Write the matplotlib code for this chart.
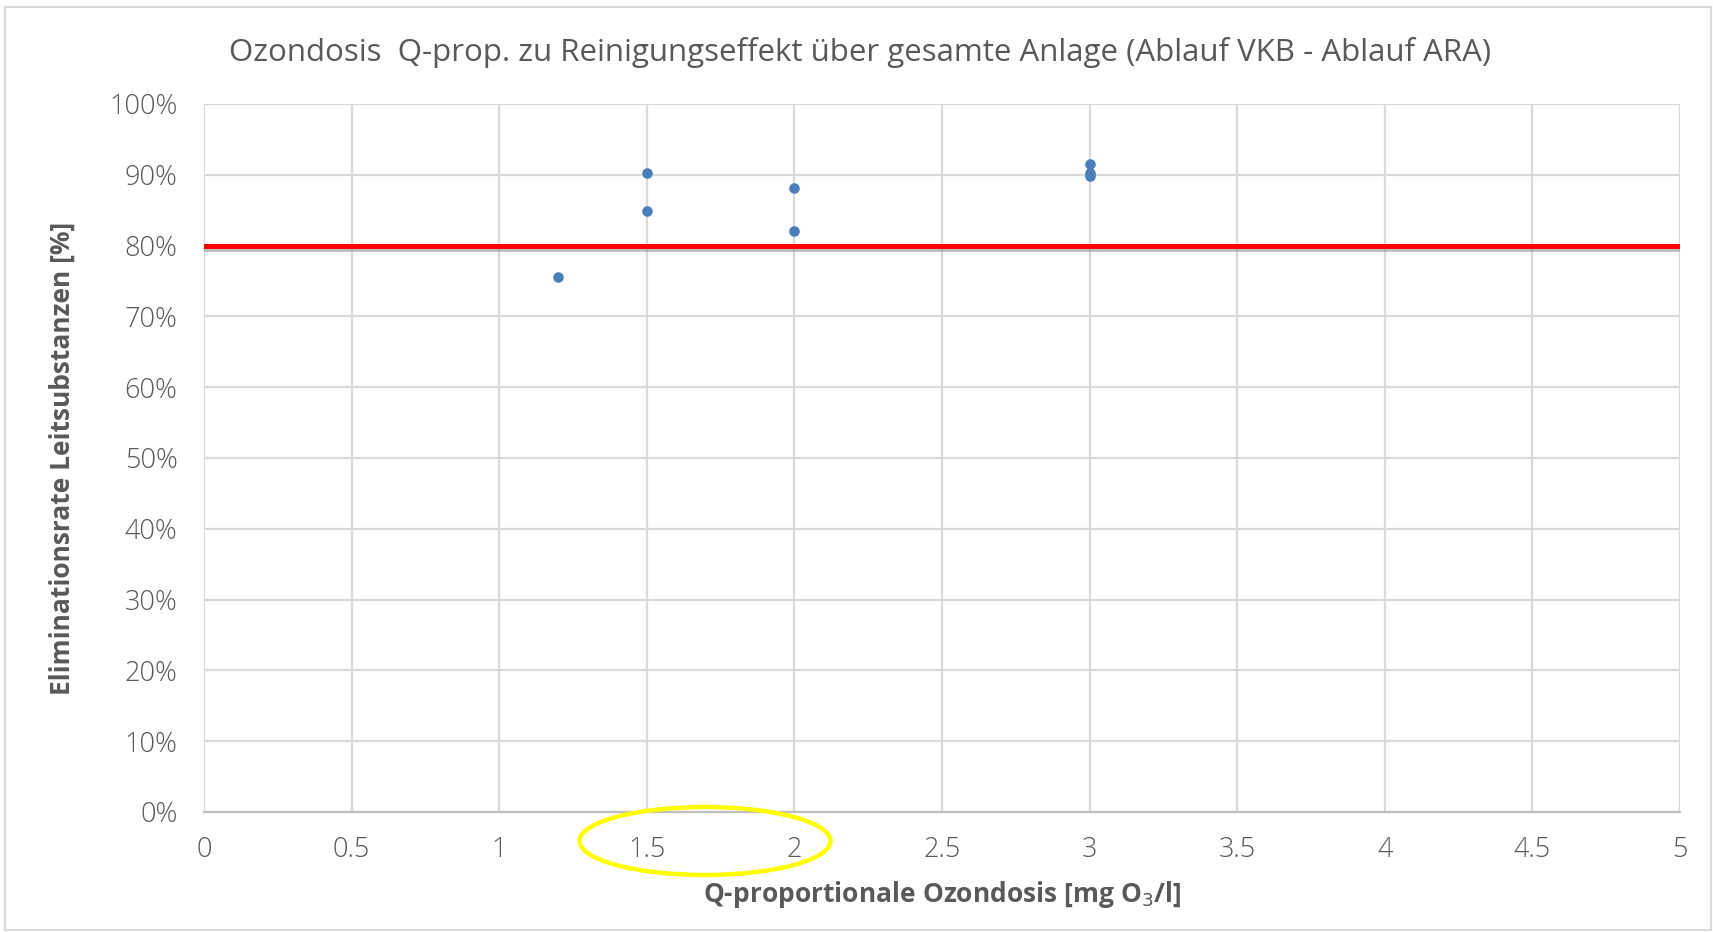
import matplotlib.pyplot as plt
from matplotlib.patches import Ellipse, Rectangle
from matplotlib.ticker import FuncFormatter, MultipleLocator
import matplotlib.patheffects as pe

plt.rcParams["font.family"] = ["Open Sans", "DejaVu Sans"]

# Measured points
dose = [1.2, 1.5, 1.5, 2, 2, 3, 3, 3]
elimination = [0.755, 0.903, 0.849, 0.882, 0.821, 0.915, 0.902, 0.898]
target_rate = 0.80

title = "Ozondosis  Q-prop. zu Reinigungseffekt über gesamte Anlage (Ablauf VKB - Ablauf ARA)"
x_label = "Q-proportionale Ozondosis [mg O$_3$/l]"
y_label = "Eliminationsrate Leitsubstanzen [%]"

text_color = "#595959"
grid_color = "#d9d9d9"

fig = plt.figure(figsize=(17.13, 9.32), dpi=100)
ax = fig.add_axes([204 / 1713, 1 - 812 / 932, (1680 - 204) / 1713, (812 - 104) / 932])

ax.scatter(dose, elimination, s=58, color="#4a7ebb", zorder=5, linewidths=0)

# Red target line with a soft shadow
ax.axhline(
    target_rate,
    color="#ff0000",
    linewidth=3.6,
    zorder=4,
    path_effects=[
        pe.SimpleLineShadow(offset=(0, -2.5), shadow_color="#808080", alpha=0.5),
        pe.Normal(),
    ],
)

ax.set_xlim(0, 5)
ax.set_ylim(0, 1)
ax.xaxis.set_major_locator(MultipleLocator(0.5))
ax.yaxis.set_major_locator(MultipleLocator(0.1))
ax.xaxis.set_major_formatter(FuncFormatter(lambda v, _: f"{v:g}"))
ax.yaxis.set_major_formatter(FuncFormatter(lambda v, _: f"{v * 100:.0f}%"))

ax.grid(True, color=grid_color, linewidth=1.6)
ax.set_axisbelow(True)

for name, spine in ax.spines.items():
    spine.set_visible(name == "bottom")
ax.spines["bottom"].set_color("#bfbfbf")
ax.spines["bottom"].set_linewidth(1.6)

ax.tick_params(axis="both", length=0, labelsize=19.5, labelcolor=text_color)
ax.tick_params(axis="x", pad=17)
ax.tick_params(axis="y", pad=19)
for label in ax.get_xticklabels() + ax.get_yticklabels():
    label.set_fontweight("light")

ax.set_xlabel(x_label, fontsize=19, fontweight="bold", color=text_color, labelpad=11)
ax.set_ylabel(y_label, fontsize=19, fontweight="bold", color=text_color, labelpad=24)

fig.text(860 / 1713, 1 - 52 / 932, title, fontsize=22.5, color=text_color,
         ha="center", va="center")

# Yellow highlight ellipse around the 1.5 - 2 tick labels
fig.add_artist(
    Ellipse(
        (705 / 1713, 1 - 841 / 932),
        251 / 1713,
        68 / 932,
        transform=fig.transFigure,
        fill=False,
        edgecolor="#ffff00",
        linewidth=3.2,
    )
)

# Outer chart border
fig.add_artist(
    Rectangle(
        (5 / 1713, 2 / 932),
        1706 / 1713,
        (925 - 2) / 932,
        transform=fig.transFigure,
        fill=False,
        edgecolor="#d9d9d9",
        linewidth=1.5,
    )
)

fig.savefig("out.png", dpi=100)
